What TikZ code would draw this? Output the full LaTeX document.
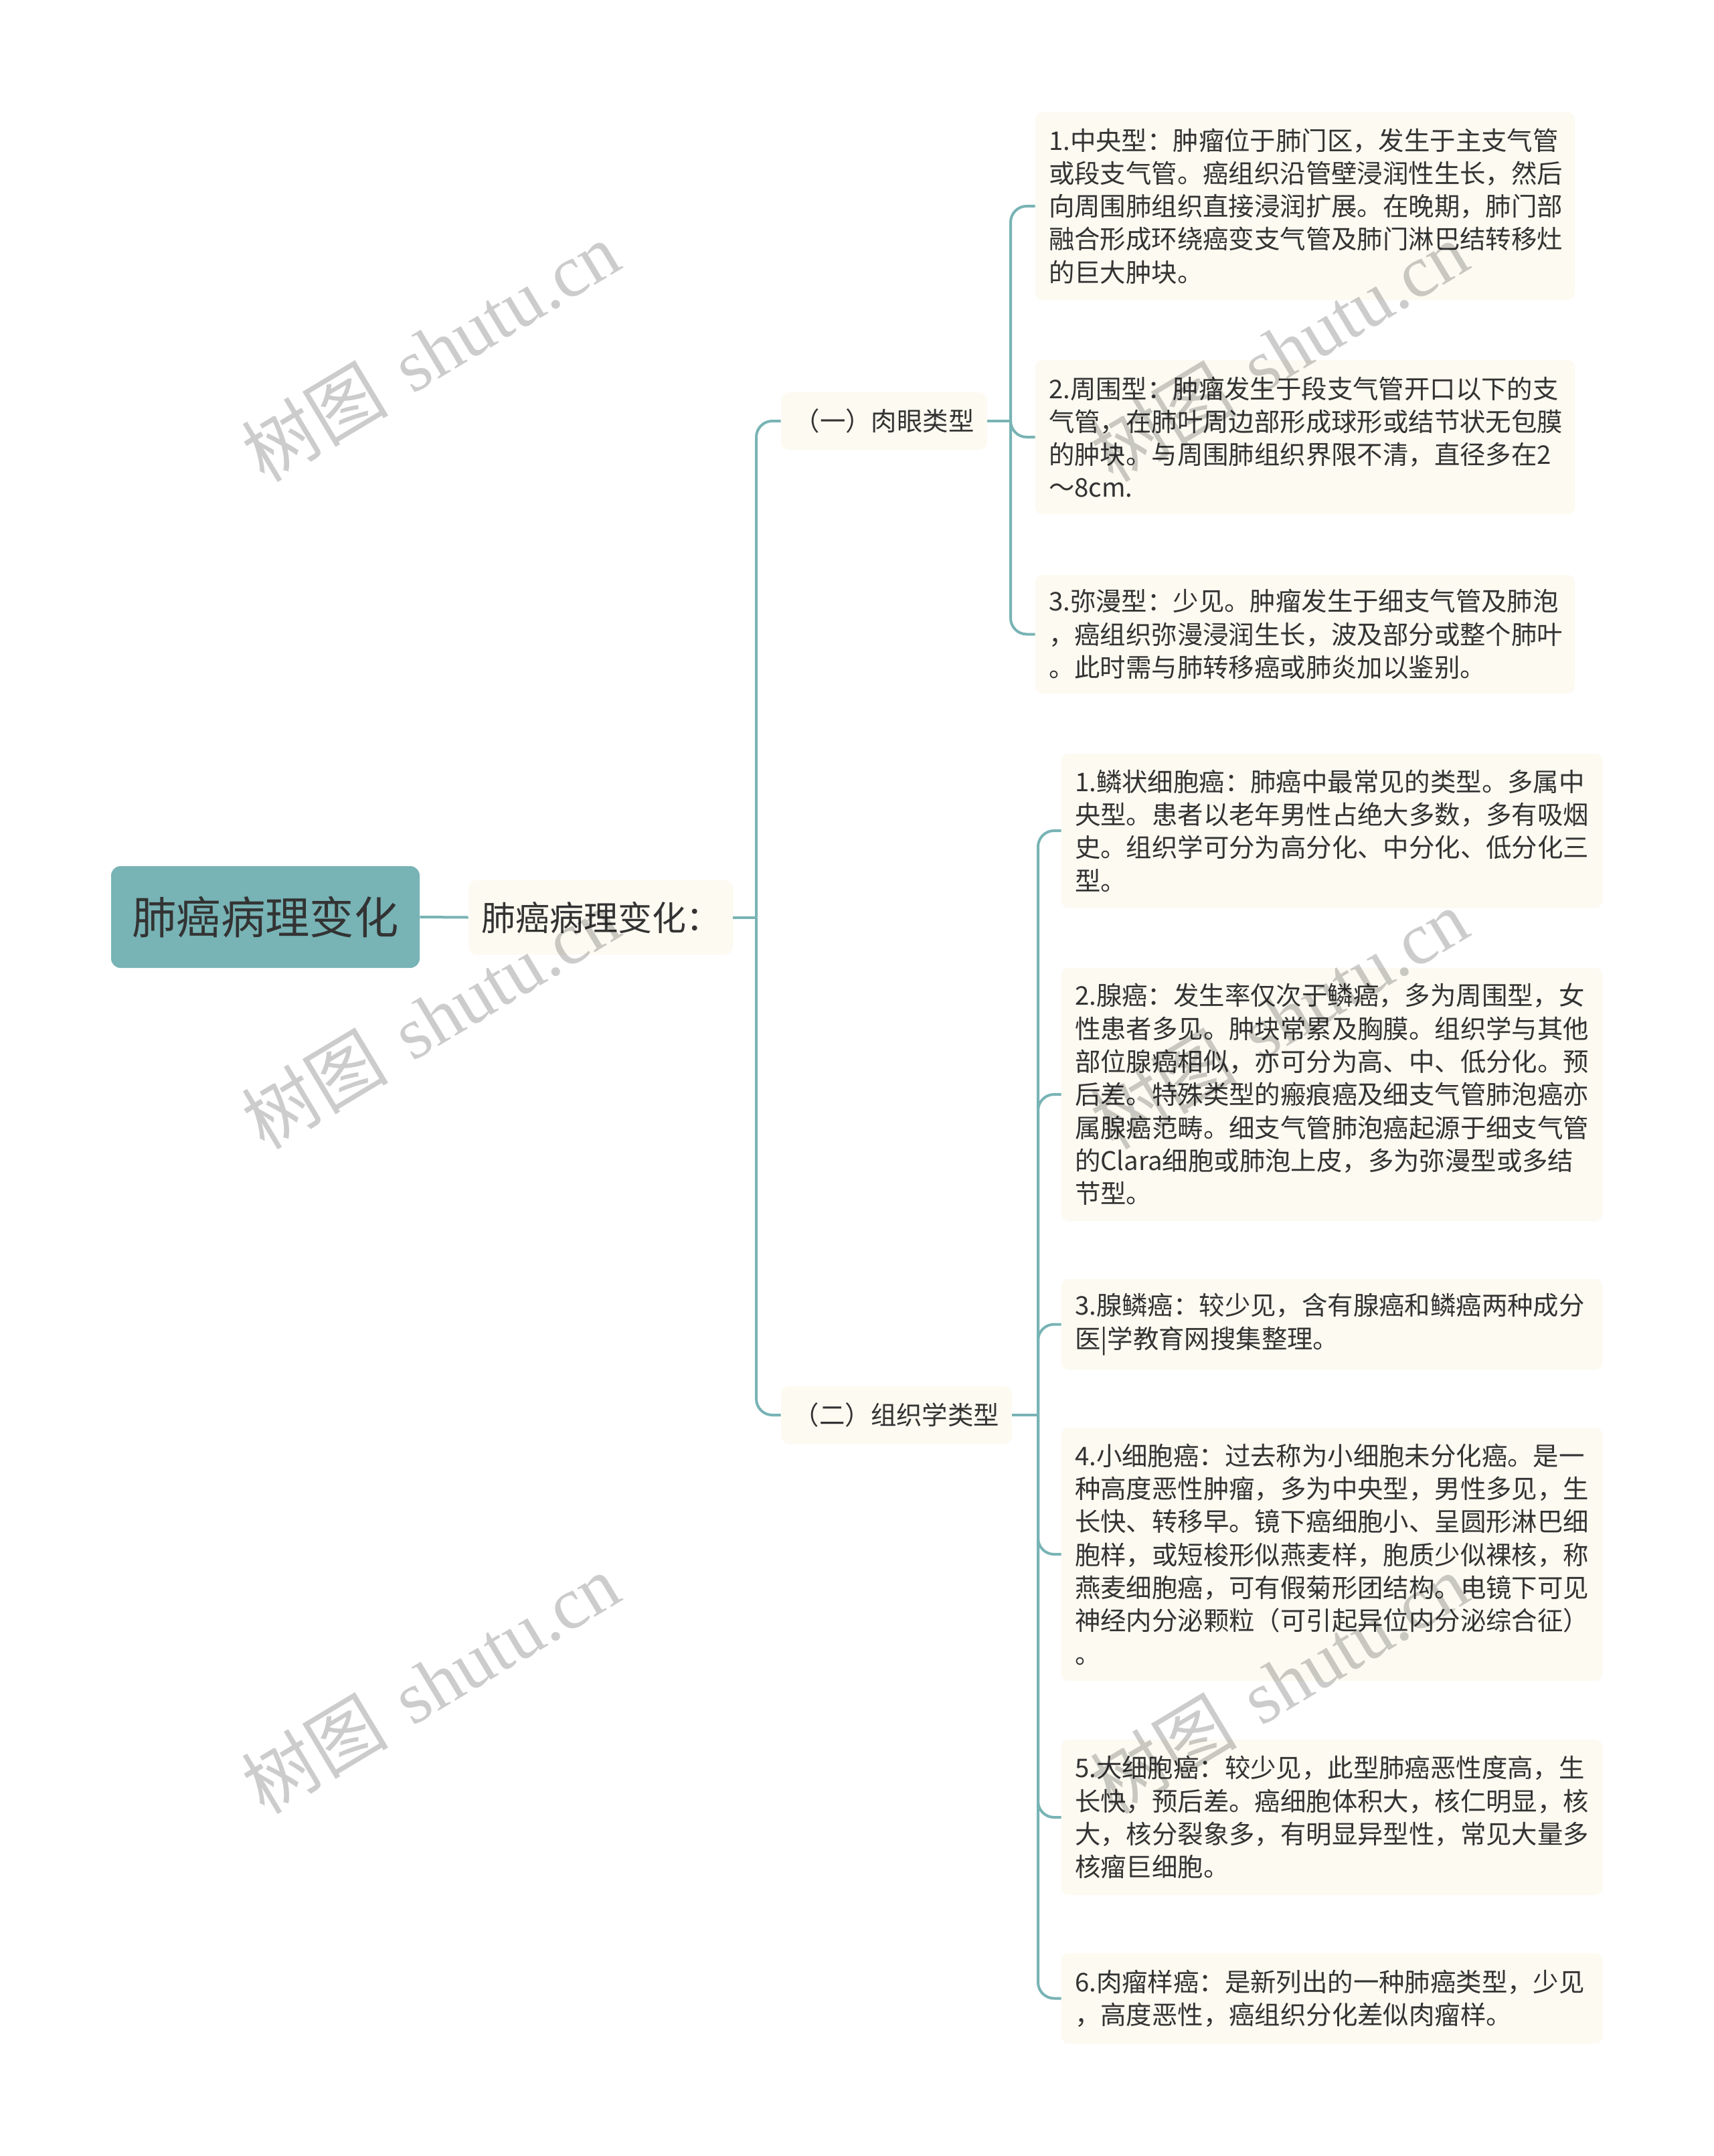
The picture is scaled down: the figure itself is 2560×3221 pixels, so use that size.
\documentclass[tikz,border=0pt]{standalone}
\usepackage{fontspec}
\setmainfont{Noto Sans CJK SC}
\newfontfamily\wmlatin{Liberation Serif}
\newfontfamily\wmcjk{Noto Sans CJK SC}
\definecolor{tealc}{HTML}{78B3B5}
\definecolor{cream}{HTML}{FCFAF1}
\definecolor{txt}{HTML}{333333}
\begin{document}
\begin{tikzpicture}[x=0.5pt,y=-0.5pt,
  conn/.style={draw=tealc, line width=2pt, rounded corners=12pt},
  rootbox/.style={fill=tealc, rounded corners=7pt, text=txt, font=\fontsize{33.2}{40}\selectfont,
    minimum width=230.5pt, minimum height=76pt, inner sep=0pt},
  midbox/.style={fill=cream, rounded corners=6pt, text=txt, inner sep=0pt},
  leafa/.style={fill=cream, rounded corners=5pt, text=txt, font=\fontsize{19.2}{24.65}\selectfont,
    text width=383pt, align=left, inner xsep=10pt, inner ysep=0pt},
  leafb/.style={leafa, text width=384pt},
  wm/.style={text=black, text opacity=0.2, font=\fontsize{55}{60}\selectfont, rotate=31, inner sep=0pt}
]
\fill[white] (0,0) rectangle (2560,3221);
\useasboundingbox (0,0) rectangle (2560,3221);

% nodes
\node[rootbox] (root) at (396.5,1370) {肺癌病理变化};
\node[midbox, font=\fontsize{25.5}{30}\selectfont, minimum width=197.5pt, minimum height=55.5pt] (l1) at (897.5,1370.5) {肺癌病理变化：};
\node[midbox, font=\fontsize{19.2}{24}\selectfont, minimum width=154pt, minimum height=43pt] (l2a) at (1321,629) {（一）肉眼类型};
\node[midbox, font=\fontsize{19.2}{24}\selectfont, minimum width=172.5pt, minimum height=43pt] (l2b) at (1339.5,2114) {（二）组织学类型};

\node[leafa, minimum height=140pt] (a1) at (1950,308) {1.中央型：肿瘤位于肺门区，发生于主支气管\\
或段支气管。癌组织沿管壁浸润性生长，然后\\
向周围肺组织直接浸润扩展。在晚期，肺门部\\
融合形成环绕癌变支气管及肺门淋巴结转移灶\\
的巨大肿块。};
\node[leafa, minimum height=115pt] (a2) at (1950,653) {2.周围型：肿瘤发生于段支气管开口以下的支\\
气管，在肺叶周边部形成球形或结节状无包膜\\
的肿块。与周围肺组织界限不清，直径多在2\\
～8cm.};
\node[leafa, minimum height=88.5pt] (a3) at (1950,947.5) {3.弥漫型：少见。肿瘤发生于细支气管及肺泡\\
，癌组织弥漫浸润生长，波及部分或整个肺叶\\
。此时需与肺转移癌或肺炎加以鉴别。};

\node[leafb, minimum height=115pt] (b1) at (1990,1241) {1.鳞状细胞癌：肺癌中最常见的类型。多属中\\
央型。患者以老年男性占绝大多数，多有吸烟\\
史。组织学可分为高分化、中分化、低分化三\\
型。};
\node[leafb, minimum height=189pt] (b2) at (1990,1635) {2.腺癌：发生率仅次于鳞癌，多为周围型，女\\
性患者多见。肿块常累及胸膜。组织学与其他\\
部位腺癌相似，亦可分为高、中、低分化。预\\
后差。特殊类型的瘢痕癌及细支气管肺泡癌亦\\
属腺癌范畴。细支气管肺泡癌起源于细支气管\\
的Clara细胞或肺泡上皮，多为弥漫型或多结\\
节型。};
\node[leafb, minimum height=67.5pt] (b3) at (1990,1978.5) {3.腺鳞癌：较少见，含有腺癌和鳞癌两种成分\\
医|学教育网搜集整理。};
\node[leafb, minimum height=189pt] (b4) at (1990,2322) {4.小细胞癌：过去称为小细胞未分化癌。是一\\
种高度恶性肿瘤，多为中央型，男性多见，生\\
长快、转移早。镜下癌细胞小、呈圆形淋巴细\\
胞样，或短梭形似燕麦样，胞质少似裸核，称\\
燕麦细胞癌，可有假菊形团结构。电镜下可见\\
神经内分泌颗粒（可引起异位内分泌综合征）\\
。};
\node[leafb, minimum height=116pt] (b5) at (1990,2715) {5.大细胞癌：较少见，此型肺癌恶性度高，生\\
长快，预后差。癌细胞体积大，核仁明显，核\\
大，核分裂象多，有明显异型性，常见大量多\\
核瘤巨细胞。};
\node[leafb, minimum height=67.5pt] (b6) at (1990,2985.5) {6.肉瘤样癌：是新列出的一种肺癌类型，少见\\
，高度恶性，癌组织分化差似肉瘤样。};

% junction points
\coordinate (s0) at (1130,1370.5);
\coordinate (sa) at (1510,629);
\coordinate (sb) at (1551,2114);

% connectors
\draw[conn] (root.east) -- (l1.west);
\draw[conn] (l1.east) -- (s0);
\draw[conn] (l2a.west) -| (s0);
\draw[conn] (l2b.west) -| (s0);
\draw[conn] (l2a.east) -- (sa);
\foreach \n in {a1,a2,a3} \draw[conn] (\n.west) -| (sa);
\draw[conn] (l2b.east) -- (sb);
\foreach \n in {b1,b2,b3,b4,b5,b6} \draw[conn] (\n.west) -| (sb);

% watermarks
\node[wm] (w1) at (643,525) {\wmcjk 树图\hspace{0.35em}{\wmlatin shutu.cn}};
\node[wm] (w2) at (1911,525) {\wmcjk 树图\hspace{0.35em}{\wmlatin shutu.cn}};
\node[wm] (w3) at (643,1522) {\wmcjk 树图\hspace{0.35em}{\wmlatin shutu.cn}};
\node[wm] (w4) at (1911,1522) {\wmcjk 树图\hspace{0.35em}{\wmlatin shutu.cn}};
\node[wm] (w5) at (643,2515) {\wmcjk 树图\hspace{0.35em}{\wmlatin shutu.cn}};
\node[wm] (w6) at (1911,2515) {\wmcjk 树图\hspace{0.35em}{\wmlatin shutu.cn}};
\end{tikzpicture}
\end{document}
